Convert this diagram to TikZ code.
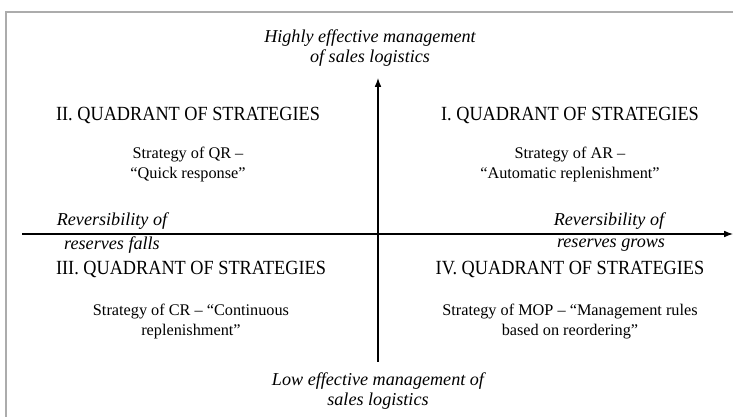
\documentclass[tikz,border=0pt]{standalone}
\usepackage{fontspec}
\setmainfont{Liberation Serif}
\usetikzlibrary{arrows.meta,positioning}

\newcommand{\tallcaps}[1]{\scalebox{1}[1.1]{#1}}

\begin{document}
\begin{tikzpicture}[x=0.75pt, y=-0.75pt, >=Latex]

\tikzset{
  quadtitle/.style={font=\fontsize{13.7}{16}\selectfont, inner sep=0pt},
  strat/.style={font=\fontsize{12.2}{15}\selectfont, align=center, inner sep=0pt},
  axislabel/.style={font=\fontsize{13.6}{15}\selectfont\itshape, align=center, inner sep=0pt},
}

\useasboundingbox (0,0) rectangle (733,417);

% -------------------------------------------------------
% 1. Frame
% -------------------------------------------------------
\draw[line width=1.9pt, gray!65] (6,417) -- (6,12) -- (733,12);

% -------------------------------------------------------
% 2. Axes
% -------------------------------------------------------
\coordinate (bot) at (378,362);
\coordinate (top) at (378,78);
\coordinate (lft) at (22,234);
\coordinate (rgt) at (733,234);

\draw[->, line width=0.8pt] (bot) -- (top);
\draw[->, line width=0.8pt] (lft) -- (rgt);

\node[axislabel] (high) at (370,48) {Highly effective management\\of sales logistics};
\node[axislabel] (low) at (378,391) {Low effective management of\\sales logistics};

\node[axislabel] (fallA) at (112,221) {Reversibility of};
\node[axislabel] (fallB) at (112,245) {reserves falls};
\node[axislabel] (growA) at (609,221) {Reversibility of};
\node[axislabel] (growB) at (611,245) {reserves grows};

% -------------------------------------------------------
% 3. Quadrants
% -------------------------------------------------------
\node[quadtitle] (qII) at (188,115) {\tallcaps{II. QUADRANT OF STRATEGIES}};
\node[quadtitle] (qI) at (570,115) {\tallcaps{I. QUADRANT OF STRATEGIES}};
\node[quadtitle] (qIII) at (191,269) {\tallcaps{III. QUADRANT OF STRATEGIES}};
\node[quadtitle] (qIV) at (570,269) {\tallcaps{IV. QUADRANT OF STRATEGIES}};

\node[strat] (sQR) at (188,165) {Strategy of QR --\\``Quick response''};
\node[strat] (sAR) at (570,165) {Strategy of AR --\\``Automatic replenishment''};
\node[strat] (sCR) at (191,322) {Strategy of CR -- ``Continuous\\replenishment''};
\node[strat] (sMOP) at (570,322) {Strategy of MOP -- ``Management rules\\based on reordering''};

\end{tikzpicture}
\end{document}
